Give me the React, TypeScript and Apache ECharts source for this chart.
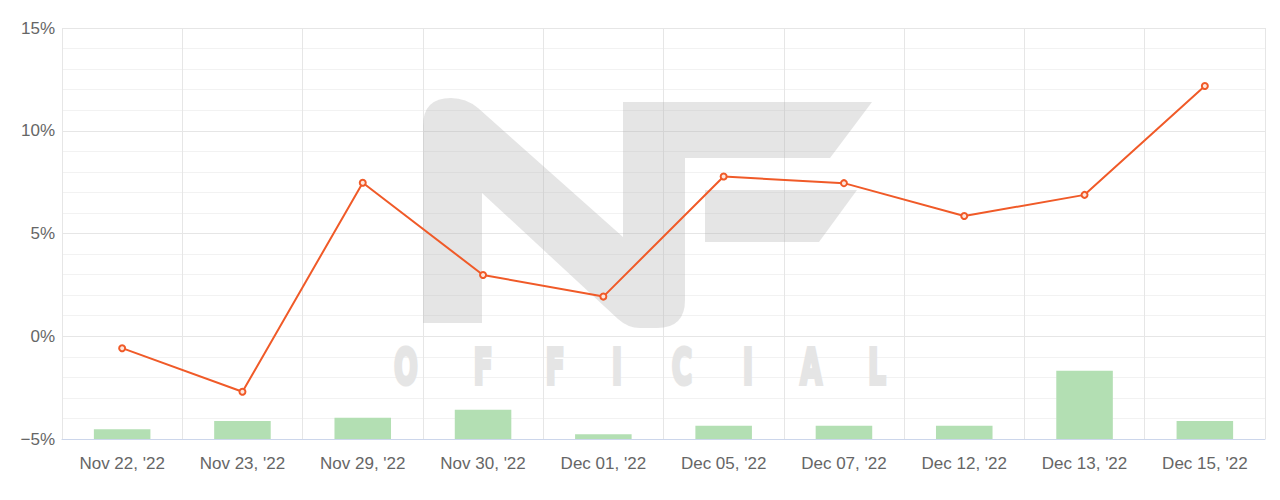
import React, { useEffect, useRef } from "react";
import * as echarts from "echarts";

const categories = [
  "Nov 22, '22",
  "Nov 23, '22",
  "Nov 29, '22",
  "Nov 30, '22",
  "Dec 01, '22",
  "Dec 05, '22",
  "Dec 07, '22",
  "Dec 12, '22",
  "Dec 13, '22",
  "Dec 15, '22",
];
const returnValues = [-0.58, -2.7, 7.47, 2.98, 1.93, 7.77, 7.45, 5.85, 6.88, 12.18];
const barValues = [2.4, 4.4, 5.2, 7.1, 1.15, 3.2, 3.2, 3.2, 16.6, 4.4];
const yMin = -5;
const yMax = 15;
const yInterval = 5;
const watermarkLetters = ["O", "F", "F", "I", "C", "I", "A", "L"];

const NF_MAIN =
  "M423,323 L423,126 Q423,98 451,98 Q466,98 478,108 L623,237 L623,102 L872,102 L830,158 L685,158 L685,300 Q685,328 657,328 L640,328 Q628,328 618,319 L482,193 L482,323 Z";
const NF_BAR = "M705,190 L857,190 L819,242 L705,242 Z";

let registered = false;
function registerShapes() {
  if (registered) return;
  echarts.graphic.registerShape("nfMain", echarts.graphic.extendPath(NF_MAIN, {}) as any);
  echarts.graphic.registerShape("nfBar", echarts.graphic.extendPath(NF_BAR, {}) as any);
  registered = true;
}

const letterX = [406, 483, 555, 617, 682, 748, 811, 877];

export default function App() {
  const ref = useRef<HTMLDivElement>(null);

  useEffect(() => {
    if (!ref.current) return;
    registerShapes();
    const chart = echarts.init(ref.current, undefined, { renderer: "svg" });
    const wmFill = "rgba(175,175,175,0.32)";
    const letterFill = "#e5e5e5";
    const graphicElements: any[] = [
      { type: "nfMain", x: 0, y: 0, z: 1, silent: true, style: { fill: wmFill } },
      { type: "nfBar", x: 0, y: 0, z: 1, silent: true, style: { fill: wmFill } },
      ...watermarkLetters.map((ch, i) => ({
        type: "text",
        x: letterX[i],
        y: 366.5,
        scaleX: 0.56,
        z: 1,
        silent: true,
        style: {
          text: ch,
          fill: letterFill,
          stroke: letterFill,
          lineWidth: 4,
          font: 'bold 50px "DejaVu Sans", sans-serif',
          textAlign: "center",
          textVerticalAlign: "middle",
        },
      })),
    ];

    chart.setOption({
      animation: false,
      backgroundColor: "#ffffff",
      textStyle: { fontFamily: '"Liberation Sans", Arial, sans-serif' },
      grid: { left: 62, right: 15, top: 28, bottom: 61, containLabel: false },
      graphic: { elements: graphicElements },
      xAxis: {
        type: "category",
        data: categories,
        boundaryGap: true,
        axisLine: { show: true, onZero: false, lineStyle: { color: "#ccd6eb", width: 1 } },
        axisTick: { show: false },
        splitLine: { show: true, lineStyle: { color: "#e6e6e6", width: 1 } },
        axisLabel: {
          interval: 0,
          margin: 16,
          fontSize: 17,
          color: "#666666",
          fontFamily: '"Liberation Sans", Arial, sans-serif',
        },
      },
      yAxis: [
        {
          type: "value",
          min: yMin,
          max: yMax,
          interval: yInterval,
          axisLine: { show: false },
          axisTick: { show: false },
          splitLine: { show: true, lineStyle: { color: "#e6e6e6", width: 1 } },
          minorTick: { show: false, splitNumber: 5 },
          minorSplitLine: { show: true, lineStyle: { color: "#f2f2f2", width: 1 } },
          axisLabel: {
            margin: 7,
            fontSize: 17,
            color: "#666666",
            fontFamily: '"Liberation Sans", Arial, sans-serif',
            formatter: (v: number) => (v < 0 ? "\u2212" + Math.abs(v) : String(v)) + "%",
          },
        },
        {
          type: "value",
          min: 0,
          max: 100,
          show: false,
          splitLine: { show: false },
        },
      ],
      series: [
        {
          type: "bar",
          yAxisIndex: 1,
          data: barValues,
          barWidth: "47%",
          itemStyle: { color: "#b3dfb3" },
          z: 2,
        },
        {
          type: "line",
          yAxisIndex: 0,
          data: returnValues,
          symbol: "circle",
          symbolSize: 6,
          lineStyle: { color: "#f05a28", width: 2 },
          itemStyle: { color: "#fde6dc", borderColor: "#f05a28", borderWidth: 2 },
          z: 3,
        },
      ],
    });
    return () => chart.dispose();
  }, []);

  return (
    <div
      ref={ref}
      style={{ position: "absolute", left: 0, top: 0, width: 1280, height: 500 }}
    />
  );
}
